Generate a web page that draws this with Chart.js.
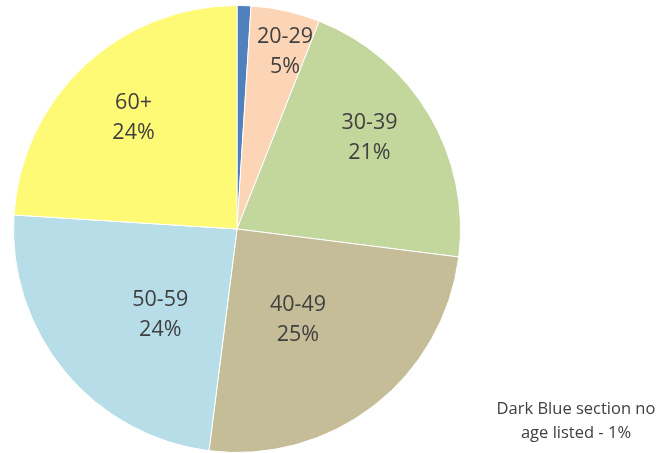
<!DOCTYPE html>
<html>
<head>
<meta charset="utf-8">
<script src="https://cdn.jsdelivr.net/npm/chart.js@4"></script>
<style>
  html, body { margin: 0; padding: 0; background: #ffffff; }
  #wrap { position: relative; width: 660px; height: 453px; }
  #note {
    position: absolute; left: 486px; top: 396px; width: 180px;
    font-family: "Open Sans", sans-serif; font-size: 16.5px; line-height: 24px;
    color: #404040; text-align: center; white-space: nowrap;
  }
</style>
</head>
<body>
<div id="wrap">
  <canvas id="c" width="660" height="453"></canvas>
  <div id="note">Dark Blue section no<br>age listed - 1%</div>
</div>
<script>
// Age groups and their share of respondents (%)
const categories = ["", "20-29", "30-39", "40-49", "50-59", "60+"];
const shares = [1, 5, 21, 25, 24, 24];
const sliceColors = ["#4F81BD", "#FBD5B5", "#C3D69B", "#C4BD97", "#B7DEE8", "#FFFA75"];

// Where each in-slice label sits: fraction of radius, and angular nudge (deg)
const labelPlacement = [
  null,
  { r: 0.82, shift: 2.6 },
  { r: 0.72, shift: -4.0 },
  { r: 0.49, shift: 4.0 },
  { r: 0.515, shift: -8.6 },
  { r: 0.68, shift: 0.3 }
];

const sliceLabels = {
  id: "sliceLabels",
  afterDatasetsDraw(chart) {
    const ctx = chart.ctx;
    const meta = chart.getDatasetMeta(0);
    ctx.save();
    ctx.font = '21.5px "Open Sans", sans-serif';
    ctx.fillStyle = "#404040";
    ctx.textAlign = "center";
    ctx.textBaseline = "middle";
    meta.data.forEach((arc, i) => {
      const place = labelPlacement[i];
      if (!place || !categories[i]) return;
      const p = arc.getProps(["x", "y", "startAngle", "endAngle", "outerRadius"], true);
      const a = (p.startAngle + p.endAngle) / 2 + place.shift * Math.PI / 180;
      const r = p.outerRadius * place.r;
      const cx = p.x + Math.cos(a) * r;
      const cy = p.y + Math.sin(a) * r;
      ctx.fillText(categories[i], cx, cy - 15);
      ctx.fillText(shares[i] + "%", cx, cy + 15);
    });
    ctx.restore();
  }
};

new Chart(document.getElementById("c"), {
  type: "pie",
  data: {
    labels: categories,
    datasets: [{
      data: shares,
      backgroundColor: sliceColors,
      borderColor: "#ffffff",
      borderWidth: 1
    }]
  },
  options: {
    responsive: false,
    animation: false,
    layout: { padding: { left: 13, right: 199, top: 5, bottom: 0 } },
    plugins: {
      legend: { display: false },
      tooltip: { enabled: false }
    }
  },
  plugins: [sliceLabels]
});
</script>
</body>
</html>
